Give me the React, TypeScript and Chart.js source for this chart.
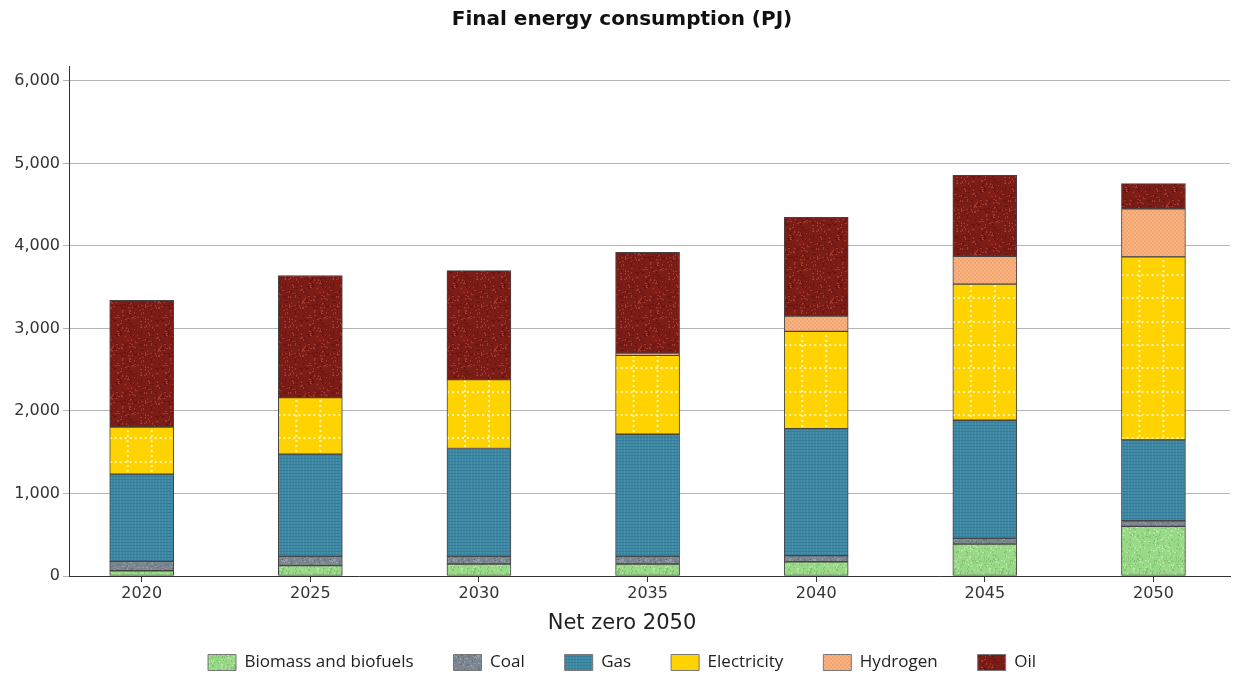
import React, { useEffect, useRef } from "react";
import { Chart, registerables } from "chart.js";

Chart.register(...registerables);

const years = [2020, 2025, 2030, 2035, 2040, 2045, 2050];
const biomass = [64, 125, 145, 145, 173, 387, 601];
const coal = [114, 113, 93, 93, 73, 69, 68];
const gas = [1056, 1238, 1307, 1480, 1540, 1431, 980];
const electricity = [572, 685, 834, 955, 1178, 1649, 2218];
const hydrogen = [0, 0, 0, 28, 185, 339, 581];
const oil = [1533, 1480, 1322, 1222, 1198, 980, 306];
const yTicks = [0, 1000, 2000, 3000, 4000, 5000, 6000];

const BAR_W = 64;
const FONT = "'Open Sans', 'Noto Sans', sans-serif";
const WIDE = "'DejaVu Sans', 'Open Sans', sans-serif";

function lcg(seed: number) {
  let s = seed;
  return () => {
    s = (s * 16807) % 2147483647;
    return s / 2147483647;
  };
}

function tile(w: number, h: number, draw: (g: CanvasRenderingContext2D) => void) {
  const c = document.createElement("canvas");
  c.width = w;
  c.height = h;
  const g = c.getContext("2d")!;
  draw(g);
  return c;
}

function speckle(base: string, light: string, dark: string, seed: number) {
  return tile(48, 48, (g) => {
    g.fillStyle = base;
    g.fillRect(0, 0, 48, 48);
    const r = lcg(seed);
    for (let i = 0; i < 260; i++) {
      g.fillStyle = r() < 0.5 ? light : dark;
      const x = Math.floor(r() * 48);
      const y = Math.floor(r() * 48);
      const horiz = r() < 0.5;
      g.fillRect(x, y, horiz ? 2 : 1, horiz ? 1 : 2);
    }
  });
}

export default function App() {
  const ref = useRef<HTMLCanvasElement | null>(null);

  useEffect(() => {
    document.body.style.margin = "0";
    const canvas = ref.current!;
    const g = canvas.getContext("2d")!;

    const bioTile = speckle("#98d886", "#b8e8a8", "#7fc46f", 7);
    const coalTile = speckle("#7c8690", "#949ea8", "#68717b", 11);
    const oilTile = speckle("#7c1c16", "#a23a2c", "#651410", 23);
    const gasTile = tile(3, 3, (t) => {
      t.fillStyle = "#3e87a3";
      t.fillRect(0, 0, 3, 3);
      t.fillStyle = "#4a93ae";
      t.fillRect(0, 0, 1, 3);
      t.fillStyle = "#367d99";
      t.fillRect(0, 2, 3, 1);
    });
    const h2Tile = tile(4, 4, (t) => {
      t.fillStyle = "#f8b382";
      t.fillRect(0, 0, 4, 4);
      t.fillStyle = "#f3a470";
      t.fillRect(0, 0, 2, 2);
      t.fillRect(2, 2, 2, 2);
    });
    const elecTile = tile(70, 70, (t) => {
      t.fillStyle = "#ffd300";
      t.fillRect(0, 0, 70, 70);
      t.fillStyle = "#fff4b0";
      const lines = [18.3, 41.7, 65];
      for (const p of lines) {
        for (let k = 0; k < 70; k += 5) {
          t.fillRect(Math.round(p) - 1, k, 2, 2);
          t.fillRect(k, Math.round(p) - 1, 2, 2);
        }
      }
    });

    const pat = (c: HTMLCanvasElement) => g.createPattern(c, "repeat")!;
    const elecBase = pat(elecTile);

    const elecBg = (ctx: any) => {
      const xs = ctx.chart && ctx.chart.scales ? ctx.chart.scales.x : null;
      if (!xs || ctx.dataIndex == null || !xs.width) return elecBase;
      const left = xs.getPixelForValue(years[ctx.dataIndex]) - BAR_W / 2;
      const p = pat(elecTile);
      p.setTransform(new DOMMatrix([1, 0, 0, 1, left, 0]));
      return p;
    };

    const common = {
      borderColor: "#444444",
      borderWidth: 1,
      borderSkipped: false,
      barThickness: BAR_W,
    };

    const chart = new Chart(canvas, {
      type: "bar",
      data: {
        labels: years,
        datasets: [
          { label: "Biomass and biofuels", data: biomass, backgroundColor: pat(bioTile), ...common },
          { label: "Coal", data: coal, backgroundColor: pat(coalTile), ...common },
          { label: "Gas", data: gas, backgroundColor: pat(gasTile), ...common },
          { label: "Electricity", data: electricity, backgroundColor: elecBg, ...common },
          { label: "Hydrogen", data: hydrogen, backgroundColor: pat(h2Tile), ...common },
          { label: "Oil", data: oil, backgroundColor: pat(oilTile), ...common },
        ] as any,
      },
      options: {
        responsive: false,
        animation: false,
        devicePixelRatio: 1,
        layout: { padding: { left: 14, right: 6, top: 0, bottom: -6 } },
        plugins: {
          title: {
            display: true,
            text: "Final energy consumption (PJ)",
            color: "#111",
            font: { family: WIDE, size: 20, weight: "bold" },
            padding: { top: 8, bottom: 34 },
          },
          subtitle: {
            display: true,
            position: "bottom",
            weight: 500,
            text: "Net zero 2050",
            color: "#222",
            font: { family: WIDE, size: 21, weight: "normal" },
            padding: { top: 9.4, bottom: -22.6 },
          },
          legend: {
            position: "bottom",
            labels: {
              boxWidth: 28,
              boxHeight: 16,
              padding: 40,
              color: "#222",
              font: { family: FONT, size: 17 },
              generateLabels: (ch: any) => {
                const items = (Chart.defaults.plugins.legend.labels as any).generateLabels(ch);
                items.forEach((it: any) => {
                  it.lineWidth = 1;
                  it.strokeStyle = "#777";
                });
                if (items[3]) items[3].fillStyle = "#ffd300";
                return items;
              },
            },
          },
          tooltip: { enabled: false },
        },
        scales: {
          x: {
            type: "linear",
            stacked: true,
            offset: false,
            min: 2017.844,
            max: 2052.27,
            afterBuildTicks: (s: any) => {
              s.ticks = years.map((v) => ({ value: v }));
            },
            afterFit: (s: any) => {
              s.height = 26;
            },
            ticks: {
              color: "#333",
              font: { family: WIDE, size: 16 },
              padding: 2,
              maxRotation: 0,
              autoSkip: false,
              callback: (v: any) => String(v),
            },
            grid: {
              display: true,
              offset: false,
              drawOnChartArea: false,
              drawTicks: true,
              tickLength: 6,
              color: "#333",
            },
            border: { display: true, color: "#333", width: 1 },
            title: { display: false },
          },
          y: {
            stacked: true,
            min: 0,
            max: 6180,
            afterBuildTicks: (s: any) => {
              s.ticks = yTicks.map((v) => ({ value: v }));
            },
            afterFit: (s: any) => {
              s.width = 55;
            },
            ticks: {
              color: "#333",
              font: { family: WIDE, size: 16 },
              padding: 3,
              callback: (v: any) => Number(v).toLocaleString("en-US"),
            },
            grid: {
              color: "#b4b4b4",
              lineWidth: 1,
              drawTicks: true,
              tickLength: 6,
            },
            border: { display: true, color: "#333", width: 1 },
          },
        },
      } as any,
    });

    return () => chart.destroy();
  }, []);

  return (
    <div style={{ width: 1236, height: 675, position: "relative" }}>
      <canvas ref={ref} width={1236} height={675} style={{ display: "block" }} />
    </div>
  );
}
